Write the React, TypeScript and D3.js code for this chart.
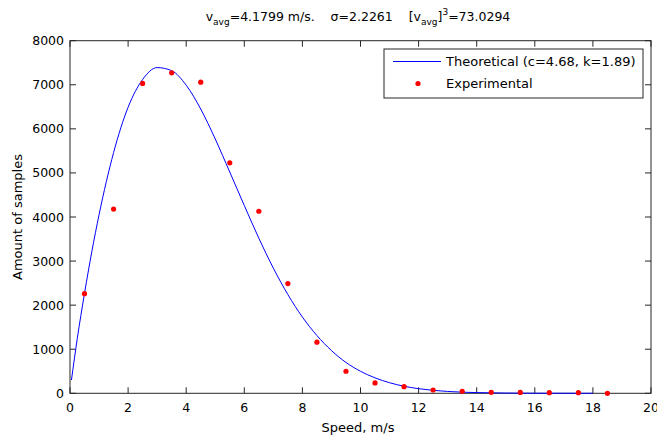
import React from 'react';
import * as d3 from 'd3';

// theoretical Weibull curve
const theoX = [0.05, 0.25, 0.5, 0.75, 1, 1.5, 2, 2.5, 3, 3.5, 4, 4.5, 5, 5.5, 6, 6.5, 7, 7.5, 8, 8.5, 9, 9.5, 10, 10.5, 11, 11.5, 12, 13, 14, 15, 16, 17, 18];
const theoY = [300, 1240, 2270, 3210, 4050, 5460, 6490, 7120, 7390, 7320, 6990, 6450, 5770, 5020, 4260, 3520, 2840, 2240, 1730, 1310, 970, 700, 500, 350, 240, 160, 105, 42, 16, 6, 2, 1, 0];

// experimental samples
const expX = [0.5, 1.5, 2.5, 3.5, 4.5, 5.5, 6.5, 7.5, 8.5, 9.5, 10.5, 11.5, 12.5, 13.5, 14.5, 15.5, 16.5, 17.5, 18.5];
const expY = [2260, 4180, 7030, 7270, 7060, 5230, 4130, 2490, 1160, 500, 235, 150, 75, 45, 22, 20, 15, 15, 0];

const xTicks = [0, 2, 4, 6, 8, 10, 12, 14, 16, 18, 20];
const yTicks = [0, 1000, 2000, 3000, 4000, 5000, 6000, 7000, 8000];

const W = 657;
const H = 439;
const FONT = 'DejaVu Sans, sans-serif';
const AX = '#262626';

const App = () => {
  const left = 70, right = 651, top = 40.7, bottom = 393.3;
  const x = d3.scaleLinear().domain([0, 20]).range([left, right]);
  const y = d3.scaleLinear().domain([0, 8000]).range([bottom, top]);

  const line = d3.line<number>()
    .x((d, i) => x(theoX[i]))
    .y(d => y(d))
    .curve(d3.curveMonotoneX);

  const tick = 6;

  return (
    <svg width={W} height={H} style={{ position: 'absolute', left: 0, top: 0, background: '#fff' }}
      fontFamily={FONT}>
      {/* title */}
      <text x={358} y={21} textAnchor="middle" fontSize={12.5} fill="#000" style={{ whiteSpace: 'pre' }}>
        <tspan>v</tspan>
        <tspan fontSize={9} dy={4}>avg</tspan>
        <tspan dy={-4}>{'=4.1799 m/s.    σ=2.2261    [v'}</tspan>
        <tspan fontSize={9} dy={4}>avg</tspan>
        <tspan dy={-4}>]</tspan>
        <tspan fontSize={9} dy={-6}>3</tspan>
        <tspan dy={6}>=73.0294</tspan>
      </text>

      {/* box */}
      <rect x={left} y={top} width={right - left} height={bottom - top} fill="#fff" stroke={AX} strokeWidth={1} />

      {/* x ticks */}
      {xTicks.map(t => (
        <g key={'x' + t}>
          <line x1={x(t)} x2={x(t)} y1={bottom} y2={bottom - tick} stroke={AX} />
          <line x1={x(t)} x2={x(t)} y1={top} y2={top + tick} stroke={AX} />
          <text x={x(t)} y={bottom + 18.5} textAnchor="middle" fontSize={12.5} fill="#000">{t}</text>
        </g>
      ))}
      {/* y ticks */}
      {yTicks.map(t => (
        <g key={'y' + t}>
          <line x1={left} x2={left + tick} y1={y(t)} y2={y(t)} stroke={AX} />
          <line x1={right} x2={right - tick} y1={y(t)} y2={y(t)} stroke={AX} />
          <text x={left - 6} y={y(t) + 4.5} textAnchor="end" fontSize={12.5} fill="#000">{t}</text>
        </g>
      ))}

      {/* axis labels */}
      <text x={358} y={432} textAnchor="middle" fontSize={13} fill="#000">Speed, m/s</text>
      <text transform={`translate(22,${(top + bottom) / 2}) rotate(-90)`} textAnchor="middle" fontSize={13} fill="#000">
        Amount of samples
      </text>

      {/* theoretical curve */}
      <path d={line(theoY) || ''} fill="none" stroke="#0000ff" strokeWidth={1} />

      {/* experimental points */}
      {expY.map((v, i) => (
        <circle key={'e' + i} cx={x(expX[i])} cy={y(v)} r={2.6} fill="#ff0000" />
      ))}

      {/* legend */}
      <rect x={384} y={49} width={259} height={49} fill="#fff" stroke={AX} strokeWidth={1} />
      <line x1={393} x2={441} y1={61.5} y2={61.5} stroke="#0000ff" strokeWidth={1} />
      <text x={446} y={66} fontSize={13} fill="#000">Theoretical (c=4.68, k=1.89)</text>
      <circle cx={418} cy={83.5} r={2.6} fill="#ff0000" />
      <text x={446} y={88} fontSize={13} fill="#000">Experimental</text>
    </svg>
  );
};

export default App;
